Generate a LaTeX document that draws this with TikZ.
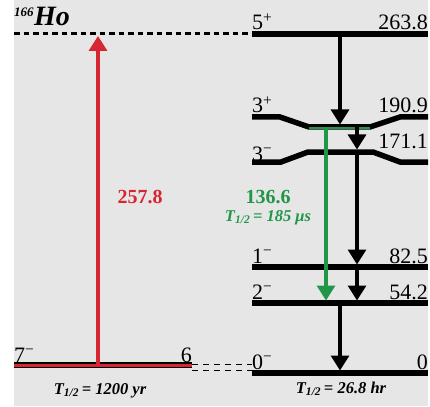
\documentclass[tikz,border=0pt]{standalone}
\usepackage{fontspec}
\setmainfont{Liberation Serif}
\usetikzlibrary{arrows.meta}
\definecolor{hored}{RGB}{214,38,50}
\definecolor{hogreen}{RGB}{32,150,72}
\definecolor{hobg}{RGB}{230,230,230}

\begin{document}
\begin{tikzpicture}[x=1pt,y=-1pt,
  level/.style={line width=5.5pt},
  decay/.style={line width=3.2pt,-{Triangle[width=18pt,length=15pt]}},
  spin/.style={anchor=base west,inner sep=0pt,font=\fontsize{22}{22}\selectfont},
  energy/.style={anchor=base east,inner sep=0pt,font=\fontsize{22}{22}\selectfont},
  halflife/.style={anchor=base,inner sep=0pt,font=\fontsize{16.5}{16.5}\selectfont\bfseries\itshape}]
  \useasboundingbox (0,0) rectangle (430,406);
  \fill[hobg] (14,0) rectangle (428,406);
  % ground band of 166Ho and the isomer
  \node[anchor=base west,inner sep=0pt,font=\fontsize{28}{28}\selectfont\bfseries\itshape] (ho) at (14,26)
    {\textsuperscript{\fontsize{13}{13}\selectfont 166}Ho};
  \draw[line width=3pt,dash pattern=on 5.5pt off 4pt] (14,34) -- (252,34);
  \draw[line width=1.8pt,dash pattern=on 6pt off 5pt] (192,364.5) -- (252,364.5);
  \draw[line width=1.8pt,dash pattern=on 6pt off 5pt] (192,370.5) -- (252,370.5);
  \draw[level] (14,365) -- (192,365);
  \draw[hored,line width=2.5pt] (14,365.5) -- (192,365.5);
  \node[spin] (s7m) at (14,362) {7\textsuperscript{−}};
  \node[energy] (e7m) at (192,362) {6};
  \node[halflife] (t7m) at (100,394) {T\textsubscript{1/2}\,= 1200 yr};
  % levels
  \draw[level] (252,34) -- (428,34);
  \draw[level] (252,117) -- (280,117) -- (309,127) -- (370,127) -- (400,117) -- (428,117);
  \draw[level] (252,162) -- (281,162) -- (308,152) -- (373,152) -- (400,162) -- (428,162);
  \draw[level] (252,267) -- (428,267);
  \draw[level] (252,303) -- (428,303);
  \draw[level] (252,373) -- (428,373);
  \draw[hogreen,line width=2pt] (309,127.8) -- (370,127.8);
  \node[spin] (s5p) at (252,30) {5\textsuperscript{+}};
  \node[energy] (e5p) at (428,30) {263.8};
  \node[spin] (s3p) at (252,113) {3\textsuperscript{+}};
  \node[energy] (e3p) at (428,113) {190.9};
  \node[spin] (s3m) at (252,161) {3\textsuperscript{−}};
  \node[energy] (e3m) at (428,148) {171.1};
  \node[spin] (s1m) at (252,263) {1\textsuperscript{−}};
  \node[energy] (e1m) at (428,263) {82.5};
  \node[spin] (s2m) at (252,299) {2\textsuperscript{−}};
  \node[energy] (e2m) at (428,299) {54.2};
  \node[spin] (s0m) at (252,369) {0\textsuperscript{−}};
  \node[energy] (e0m) at (428,369) {0};
  \node[halflife] (t0m) at (341,393) {T\textsubscript{1/2}\,= 26.8 hr};
  % transitions
  \coordinate (r0) at (98,365);  \coordinate (r1) at (98,36);
  \coordinate (a0) at (340,34);  \coordinate (a1) at (340,124.5);
  \coordinate (b0) at (357,127); \coordinate (b1) at (357,149.5);
  \coordinate (c0) at (357,152); \coordinate (c1) at (357,264.5);
  \coordinate (d0) at (357,267); \coordinate (d1) at (357,300.5);
  \coordinate (f0) at (340,303); \coordinate (f1) at (340,370.5);
  \coordinate (g0) at (326,128); \coordinate (g1) at (326,300.5);
  \draw[decay,hored,line width=3.4pt] (r0) -- (r1);
  \draw[decay] (a0) -- (a1);
  \draw[decay] (b0) -- (b1);
  \draw[decay] (c0) -- (c1);
  \draw[decay] (d0) -- (d1);
  \draw[decay] (f0) -- (f1);
  \draw[decay,hogreen] (g0) -- (g1);
  \node[anchor=base,inner sep=0pt,hored,font=\fontsize{20}{20}\selectfont\bfseries] (lr) at (140,203) {257.8};
  \node[anchor=base,inner sep=0pt,hogreen,font=\fontsize{20}{20}\selectfont\bfseries] (lg) at (268,203) {136.6};
  \node[halflife,hogreen] (tg) at (268,221) {T\textsubscript{1/2}\,= 185 μs};
\end{tikzpicture}
\end{document}
